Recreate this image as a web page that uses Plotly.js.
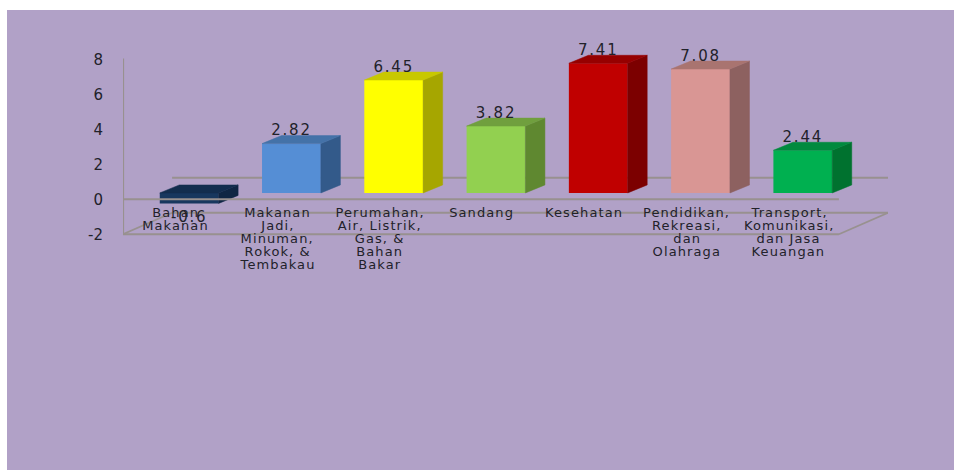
<!DOCTYPE html>
<html>
<head>
<meta charset="utf-8">
<script src="https://cdn.plot.ly/plotly-3.0.1.min.js"></script>
<style>
html,body{margin:0;padding:0;background:#fff;overflow:hidden}
#chart{position:absolute;left:7px;top:10px;width:947px;height:460px}
#chart .annotation text{letter-spacing:1.1px}
#chart .textpoint text{letter-spacing:1.8px}
</style>
</head>
<body>
<div id="chart"></div>
<script>
var categoryLines = [
  ["Bahan", "Makanan"],
  ["Makanan", "Jadi,", "Minuman,", "Rokok, &", "Tembakau"],
  ["Perumahan,", "Air, Listrik,", "Gas, &", "Bahan", "Bakar"],
  ["Sandang"],
  ["Kesehatan"],
  ["Pendidikan,", "Rekreasi,", "dan", "Olahraga"],
  ["Transport,", "Komunikasi,", "dan Jasa", "Keuangan"]
];
var values = [-0.6, 2.82, 6.45, 3.82, 7.41, 7.08, 2.44];
var frontColors = ["#17375E", "#558ED5", "#FFFF00", "#92D050", "#C00000", "#D99694", "#00B050"];
var topColors   = ["#122D4E", "#4472A8", "#C8C800", "#709F3E", "#960000", "#A97470", "#008A3E"];
var sideColors  = ["#0F2644", "#335A8A", "#A6A600", "#5F8830", "#7C0000", "#8D6160", "#00722F"];
var yTicks = [-2, 0, 2, 4, 6, 8];
var yTickText = ["-2", "0", "2", "4", "6", "8"];

/* oblique projection, in axis units */
var wallDx = 0.48, wallDy = 1.229;
var barShiftX = 0.147, barShiftY = 0.36, barWidth = 0.575, barDepthX = 0.191, barDepthY = 0.457;
var lineColor = "#98918F", textColor = "#22222A";
var font = "DejaVu Sans, Verdana, sans-serif";

var xs = values.map(function (v, i) { return i + barShiftX; });
var traces = [{
  type: "bar", x: xs, y: values, base: barShiftY, width: barWidth,
  marker: { color: frontColors, line: { width: 0 } },
  hoverinfo: "skip", showlegend: false
}];

values.forEach(function (v, i) {
  var xl = xs[i] - barWidth / 2, xr = xs[i] + barWidth / 2;
  var top = Math.max(v, 0) + barShiftY, bottom = Math.min(v, 0) + barShiftY;
  traces.push({
    type: "scatter", mode: "lines", fill: "toself", fillcolor: sideColors[i],
    line: { width: 0.5, color: sideColors[i] }, hoverinfo: "skip", showlegend: false,
    x: [xr, xr + barDepthX, xr + barDepthX, xr, xr],
    y: [bottom, bottom + barDepthY, top + barDepthY, top, bottom]
  });
  traces.push({
    type: "scatter", mode: "lines", fill: "toself", fillcolor: topColors[i],
    line: { width: 0.5, color: topColors[i] }, hoverinfo: "skip", showlegend: false,
    x: [xl, xl + barDepthX, xr + barDepthX, xr, xl],
    y: [top, top + barDepthY, top + barDepthY, top, top]
  });
});

traces.push({
  type: "scatter", mode: "text", x: xs,
  y: values.map(function (v) { return v >= 0 ? v + barShiftY + 0.7 : v + barShiftY - 0.86; }),
  text: values.map(String), textposition: "middle center", cliponaxis: false,
  textfont: { family: font, size: 15, color: textColor },
  hoverinfo: "skip", showlegend: false
});

function seg(x0, y0, x1, y1, layer, width) {
  return { type: "line", xref: "x", yref: "y", x0: x0, y0: y0, x1: x1, y1: y1, layer: layer,
           line: { color: lineColor, width: width || 1.8 } };
}
var xa = -0.5, xb = values.length - 0.5;
var shapes = [
  seg(xa, -2, xa, 8.05, "below", 2.2),
  seg(xa + wallDx, wallDy, xb + wallDx, wallDy, "below"),
  seg(xa + wallDx, wallDy - 2, xb + wallDx, wallDy - 2, "below"),
  seg(xa, -2, xb, -2, "below"),
  seg(xa, -2, xa + wallDx, wallDy - 2, "below"),
  seg(xb, -2, xb + wallDx, wallDy - 2, "below"),
  seg(xa, 0, xb, 0, "above")
];

var firstLineY = -0.77, lineStep = 13 / 17.5;
var annotations = [];
categoryLines.forEach(function (lines, i) {
  lines.forEach(function (txt, n) {
    annotations.push({
      xref: "x", yref: "y", x: i + 0.01, y: firstLineY - n * lineStep, text: txt,
      showarrow: false, xanchor: "center", yanchor: "middle", borderpad: 0,
      font: { family: font, size: 13, color: textColor }
    });
  });
});

Plotly.newPlot("chart", traces, {
  width: 947, height: 460,
  paper_bgcolor: "#B1A1C7", plot_bgcolor: "rgba(0,0,0,0)",
  margin: { l: 116, r: 66, t: 22.75, b: 192.25, pad: 0 },
  showlegend: false, hovermode: false, barmode: "overlay",
  xaxis: { type: "linear", range: [xa, xb + wallDx], visible: false, fixedrange: true },
  yaxis: {
    range: [-4.5, 9.5], tickmode: "array", tickvals: yTicks, ticktext: yTickText,
    showgrid: false, zeroline: false, showline: false,
    ticks: "", ticklabelstandoff: 19, fixedrange: true,
    tickfont: { family: font, size: 15, color: textColor }
  },
  shapes: shapes, annotations: annotations
}, { displayModeBar: false, staticPlot: true });
</script>
</body>
</html>
